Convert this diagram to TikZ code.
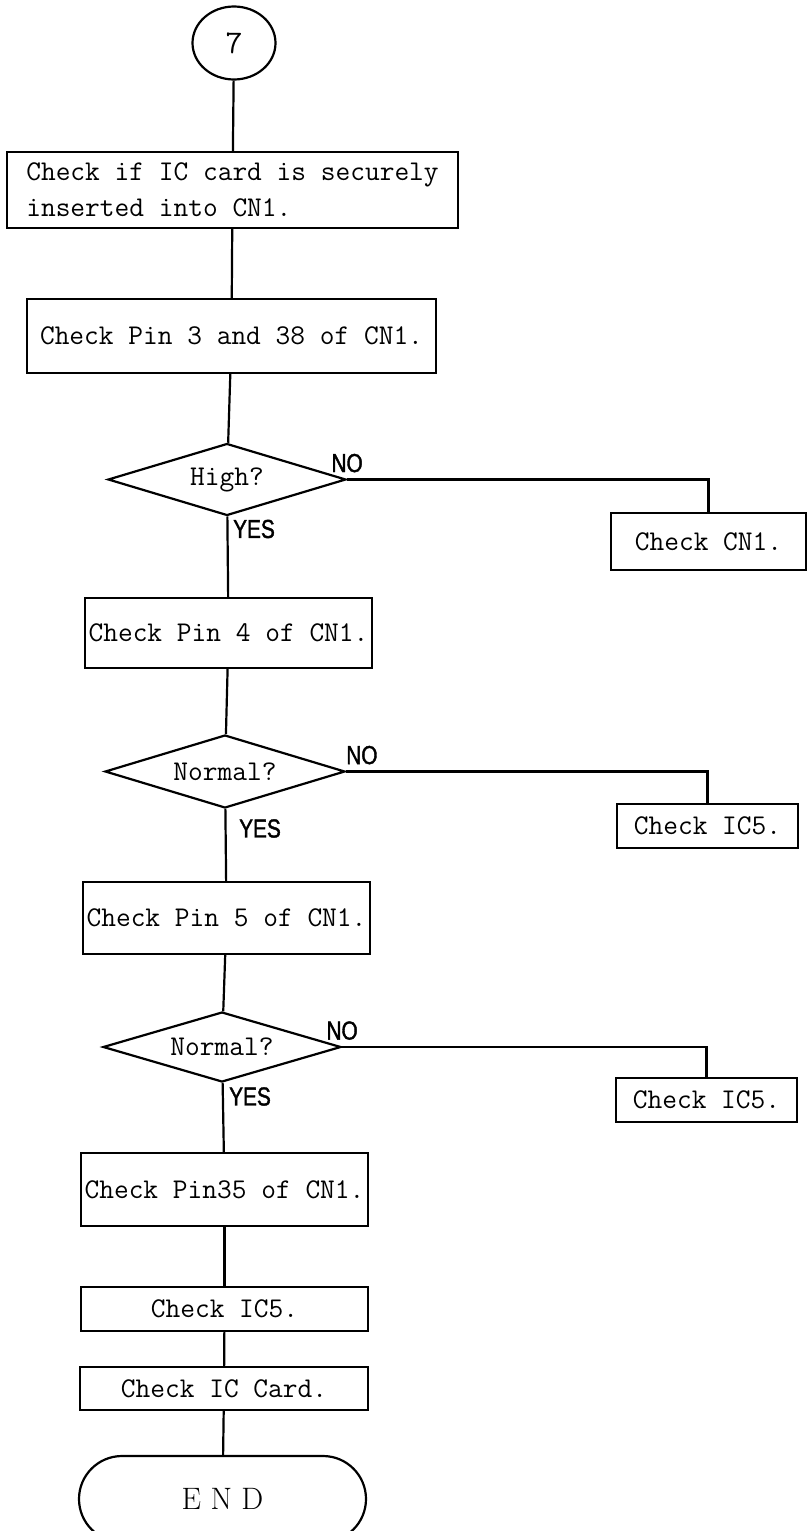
\documentclass[tikz,border=0pt]{standalone}
\usepackage{fontspec}
\newfontfamily\narrowsans[FakeStretch=0.8,FakeBold=1.5]{Liberation Sans}
\usepackage{tikz}
\usetikzlibrary{shapes.geometric, positioning}
\tikzset{
  basebox/.style={rectangle,draw=black,line width=2.2pt,inner sep=1pt,
    font=\fontsize{28.6}{36}\selectfont\ttfamily\addfontfeature{FakeBold=1.5}},
  procbox/.style={basebox,align=center},
  decbox/.style={basebox,diamond,aspect=3.3},
  conncirc/.style={basebox,ellipse,minimum width=83pt,minimum height=73pt},
  endbox/.style={basebox,rounded corners=43pt,
    font=\fontsize{31}{36}\selectfont\rmfamily\addfontfeature{FakeBold=1.2}},
  lbl/.style={inner sep=0pt,font=\fontsize{26}{26}\selectfont\narrowsans},
  link/.style={line width=2.2pt,color=black}
}
\begin{document}
\begin{tikzpicture}[x=1pt,y=-1pt]
  \useasboundingbox (0,0) rectangle (808,1531);
  \node[conncirc,font=\fontsize{33}{36}\selectfont\ttfamily\addfontfeature{FakeBold=1.5}] (start) at (234,43) {7};
  \node[procbox,align=left,minimum width=451pt,minimum height=76pt] (insert) at (232.5,190)
    {Check if IC card is securely\\ inserted into CN1.};
  \node[procbox,minimum width=409pt,minimum height=74pt] (pin338) at (231.5,336) {Check Pin 3 and 38 of CN1.};
  \node[decbox,minimum width=238pt,minimum height=72pt] (high) at (227,479.5) {High?};
  \node[procbox,minimum width=195pt,minimum height=57pt] (cn) at (708.5,541.5) {Check CN1.};
  \node[procbox,minimum width=287pt,minimum height=70pt] (pin4) at (228.5,633) {Check Pin 4 of CN1.};
  \node[decbox,minimum width=240pt,minimum height=73pt] (norma) at (225,771.5) {Normal?};
  \node[procbox,minimum width=181pt,minimum height=44pt] (ic5a) at (707.5,826) {Check IC5.};
  \node[procbox,minimum width=287pt,minimum height=72pt] (pin5) at (226.5,918) {Check Pin 5 of CN1.};
  \node[decbox,minimum width=238pt,minimum height=70pt] (normb) at (222,1047) {Normal?};
  \node[procbox,minimum width=181pt,minimum height=44pt] (ic5b) at (706.5,1100) {Check IC5.};
  \node[procbox,minimum width=287pt,minimum height=73pt] (pin35) at (224.5,1189.5) {Check Pin35 of CN1.};
  \node[procbox,minimum width=287pt,minimum height=44pt] (ic5c) at (224.5,1309) {Check IC5.};
  \node[procbox,minimum width=288pt,minimum height=43pt] (card) at (224,1388.5) {Check IC Card.};
  \node[endbox,minimum width=287pt,minimum height=86pt] (stop) at (222.5,1499) {E N D};
  \foreach \a/\b in {start/insert,insert/pin338,pin338/high,high/pin4,pin4/norma,norma/pin5,
      pin5/normb,normb/pin35,pin35/ic5c,ic5c/card,card/stop}
    \draw[link] (\a)--(\b);
  \foreach \a/\b in {high/cn,norma/ic5a,normb/ic5b}
    \draw[link] (\a.east) -| (\b.north);
  \node[lbl,above=7pt of high.east] (nohigh) {NO};
  \node[lbl,below right=3pt and 6pt of high.south] (yeshigh) {YES};
  \node[lbl,above right=7pt and 0pt of norma.east] (nonorma) {NO};
  \node[lbl,below right=10pt and 14pt of norma.south] (yesnorma) {YES};
  \node[lbl,above=7pt of normb.east] (nonormb) {NO};
  \node[lbl,below right=4pt and 7pt of normb.south] (yesnormb) {YES};
\end{tikzpicture}
\end{document}
